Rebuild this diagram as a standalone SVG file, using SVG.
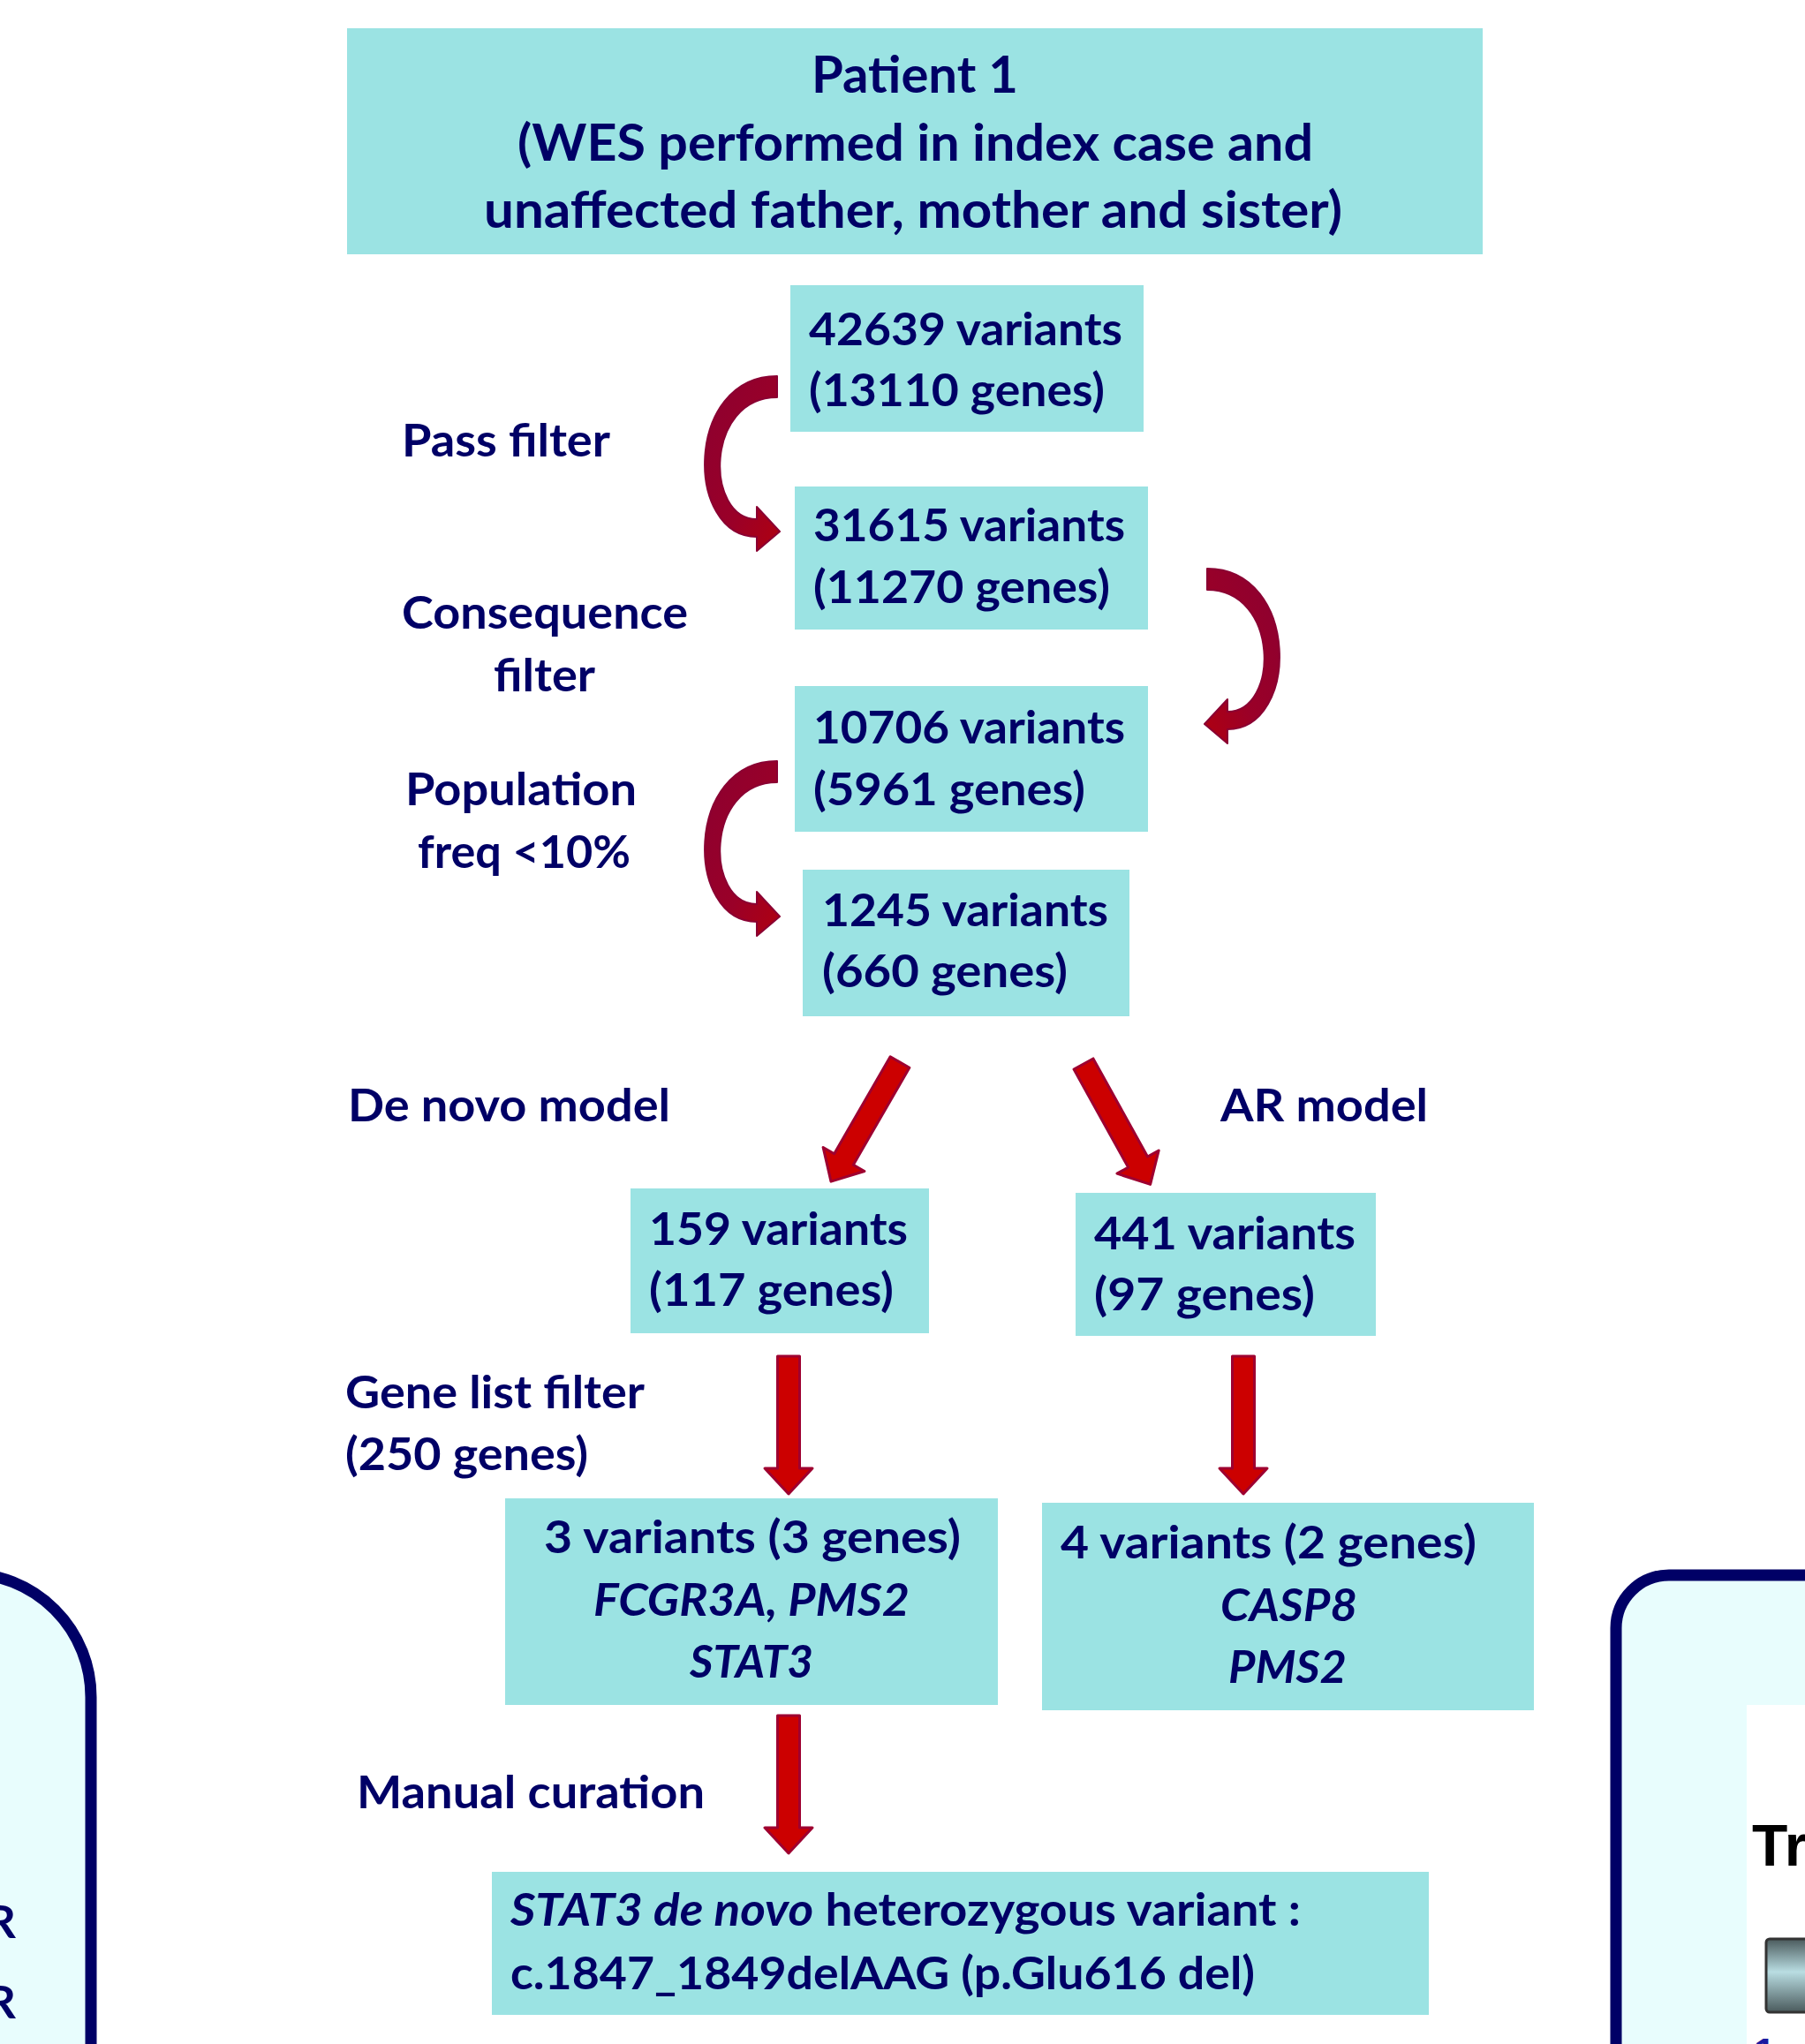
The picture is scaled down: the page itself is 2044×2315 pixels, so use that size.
<svg xmlns="http://www.w3.org/2000/svg" width="2044" height="2315" viewBox="0 0 2044 2315">
<style>
.box{fill:#9BE3E3}
.t{font-family:Lato,"Liberation Sans",sans-serif;font-weight:bold;font-size:52px;fill:#000066}
.ti{font-size:58px}
.it{font-style:italic}
.sarrow{fill:#CC0000;stroke:#9E0030;stroke-width:3;stroke-linejoin:round}
.carrow{fill:url(#cgrad);stroke:#8A0032;stroke-width:2;stroke-linejoin:round}
.panel{fill:#E8FDFD;stroke:#000066;stroke-width:13}
</style>
<defs>
<linearGradient id="cgrad" x1="0" y1="0" x2="1" y2="1">
<stop offset="0" stop-color="#8C0030"/>
<stop offset="0.6" stop-color="#9A0028"/>
<stop offset="1" stop-color="#B00010"/>
</linearGradient>
<linearGradient id="ggrad" x1="0" y1="0" x2="0" y2="1">
<stop offset="0" stop-color="#4A5A5C"/>
<stop offset="0.45" stop-color="#B9DDE2"/>
<stop offset="1" stop-color="#4A5A5C"/>
</linearGradient>
<path id="sa" d="M-12.5,0 H12.5 V127 H27 L0,156 L-27,127 H-12.5 Z"/>
<path id="ca" d="M880,426 C775,426 775,608 857,608 L857,624 L883,602 L857,574 L857,588 C798,588 798,450 880,450 Z"/>
</defs>
<rect width="2044" height="2315" fill="#FFFFFF"/>

<!-- side panels (cropped neighbours) -->
<g id="left-panel">
<path class="panel" d="M-60,1782 L-37,1782 A140,140 0 0 1 103,1922 L103,2340 L-60,2340 Z"/>
<text class="t" x="18" y="2195" text-anchor="end" font-size="64">R</text>
<text class="t" x="18" y="2286" text-anchor="end" font-size="64">R</text>
</g>
<g id="right-panel">
<path class="panel" d="M1830,2340 L1830,1844 A60,60 0 0 1 1890,1784 L2070,1784 L2070,2340 Z"/>
<rect x="1978" y="1931" width="80" height="400" fill="#FFFFFF"/>
<text x="1984" y="2113" font-family="Liberation Sans,Arial,sans-serif" font-weight="bold" font-size="66" fill="#000000">Tr</text>
<rect x="2000" y="2196" width="70" height="83" rx="4" fill="url(#ggrad)" stroke="#333333" stroke-width="3"/>
<text x="1986" y="2340" font-family="Liberation Sans,Arial,sans-serif" font-weight="bold" font-size="44" fill="#1A1AA0">1</text>
</g>

<g id="connectors">
<use href="#ca" class="carrow"/>
<use href="#ca" class="carrow" transform="translate(0,436)"/>
<use href="#ca" class="carrow" transform="translate(2247,218) scale(-1,1)"/>
<use href="#sa" class="sarrow" transform="translate(1019,1203) rotate(30)"/>
<use href="#sa" class="sarrow" transform="translate(1227,1205) rotate(-29)"/>
<use href="#sa" class="sarrow" transform="translate(893,1536)"/>
<use href="#sa" class="sarrow" transform="translate(1408,1536)"/>
<use href="#sa" class="sarrow" transform="translate(893,1943)"/>
</g>

<g id="labels">
<text class="t" x="455" y="517" textLength="236" lengthAdjust="spacingAndGlyphs">Pass filter</text>
<text class="t" x="455" y="712" textLength="324" lengthAdjust="spacingAndGlyphs">Consequence</text>
<text class="t" x="559" y="783" textLength="115" lengthAdjust="spacingAndGlyphs">filter</text>
<text class="t" x="459" y="912" textLength="262" lengthAdjust="spacingAndGlyphs">Population</text>
<text class="t" x="473" y="983" textLength="241" lengthAdjust="spacingAndGlyphs">freq &lt;10%</text>
<text class="t" x="394" y="1270" textLength="365" lengthAdjust="spacingAndGlyphs">De novo model</text>
<text class="t" x="1382" y="1270" textLength="235" lengthAdjust="spacingAndGlyphs">AR model</text>
<text class="t" x="391" y="1595" textLength="339" lengthAdjust="spacingAndGlyphs">Gene list filter</text>
<text class="t" x="391" y="1665" textLength="275" lengthAdjust="spacingAndGlyphs">(250 genes)</text>
<text class="t" x="404" y="2048" textLength="394" lengthAdjust="spacingAndGlyphs">Manual curation</text>
</g>

<g id="n-patient">
<rect class="box" x="393" y="32" width="1286" height="256"/>
<text class="t ti" x="1036" y="105" text-anchor="middle" textLength="234" lengthAdjust="spacingAndGlyphs">Patient 1</text>
<text class="t ti" x="586" y="182" textLength="901" lengthAdjust="spacingAndGlyphs">(WES performed in index case and</text>
<text class="t ti" x="548" y="258" textLength="972" lengthAdjust="spacingAndGlyphs">unaffected father, mother and sister)</text>
</g>
<g id="n-42639">
<rect class="box" x="895" y="323" width="400" height="166"/>
<text class="t" x="916" y="391" textLength="355" lengthAdjust="spacingAndGlyphs">42639 variants</text>
<text class="t" x="916" y="460" textLength="335" lengthAdjust="spacingAndGlyphs">(13110 genes)</text>
</g>
<g id="n-31615">
<rect class="box" x="900" y="551" width="400" height="162"/>
<text class="t" x="921" y="613" textLength="353" lengthAdjust="spacingAndGlyphs">31615 variants</text>
<text class="t" x="921" y="683" textLength="336" lengthAdjust="spacingAndGlyphs">(11270 genes)</text>
</g>
<g id="n-10706">
<rect class="box" x="900" y="777" width="400" height="165"/>
<text class="t" x="921" y="842" textLength="353" lengthAdjust="spacingAndGlyphs">10706 variants</text>
<text class="t" x="921" y="912" textLength="308" lengthAdjust="spacingAndGlyphs">(5961 genes)</text>
</g>
<g id="n-1245">
<rect class="box" x="909" y="985" width="370" height="166"/>
<text class="t" x="931" y="1049" textLength="324" lengthAdjust="spacingAndGlyphs">1245 variants</text>
<text class="t" x="931" y="1118" textLength="278" lengthAdjust="spacingAndGlyphs">(660 genes)</text>
</g>
<g id="n-159">
<rect class="box" x="714" y="1346" width="338" height="164"/>
<text class="t" x="735" y="1410" textLength="293" lengthAdjust="spacingAndGlyphs">159 variants</text>
<text class="t" x="735" y="1479" textLength="277" lengthAdjust="spacingAndGlyphs">(117 genes)</text>
</g>
<g id="n-441">
<rect class="box" x="1218" y="1351" width="340" height="162"/>
<text class="t" x="1239" y="1415" textLength="296" lengthAdjust="spacingAndGlyphs">441 variants</text>
<text class="t" x="1239" y="1484" textLength="250" lengthAdjust="spacingAndGlyphs">(97 genes)</text>
</g>
<g id="n-3variants">
<rect class="box" x="572" y="1697" width="558" height="234"/>
<text class="t" x="616" y="1759" textLength="472" lengthAdjust="spacingAndGlyphs">3 variants (3 genes)</text>
<text class="t it" x="672" y="1830" textLength="358" lengthAdjust="spacingAndGlyphs">FCGR3A, PMS2</text>
<text class="t it" x="781" y="1900" textLength="140" lengthAdjust="spacingAndGlyphs">STAT3</text>
</g>
<g id="n-4variants">
<rect class="box" x="1180" y="1702" width="557" height="235"/>
<text class="t" x="1201" y="1765" textLength="471" lengthAdjust="spacingAndGlyphs">4 variants (2 genes)</text>
<text class="t it" x="1382" y="1836" textLength="155" lengthAdjust="spacingAndGlyphs">CASP8</text>
<text class="t it" x="1391" y="1906" textLength="134" lengthAdjust="spacingAndGlyphs">PMS2</text>
</g>
<g id="n-stat3">
<rect class="box" x="557" y="2120" width="1061" height="162"/>
<text class="t" x="578" y="2181" textLength="895" lengthAdjust="spacingAndGlyphs"><tspan class="it">STAT3 de novo</tspan> heterozygous variant :</text>
<text class="t" x="578" y="2253" textLength="843" lengthAdjust="spacingAndGlyphs">c.1847_1849delAAG (p.Glu616 del)</text>
</g>
</svg>
